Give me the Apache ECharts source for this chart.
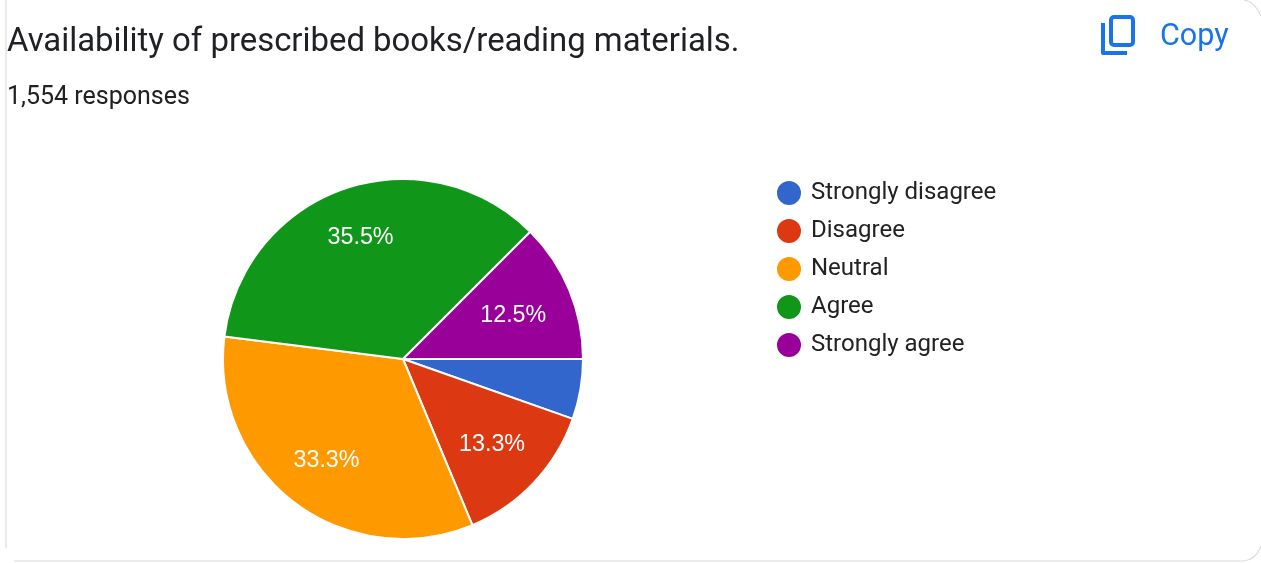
<!DOCTYPE html>
<html><head><meta charset="utf-8">
<style>html,body{margin:0;padding:0;background:#fff}#c{width:1261px;height:563px}</style>
<script src="https://cdn.jsdelivr.net/npm/echarts@6/dist/echarts.min.js"></script>
</head><body><div id="c"></div>
<script>
const categories = ["Strongly disagree","Disagree","Neutral","Agree","Strongly agree"];
const percents = [5.4,13.3,33.3,35.5,12.5];
const colors = ["#3366cc","#dc3912","#ff9900","#109618","#990099"];
const titleText = "Availability of prescribed books/reading materials.";
const subText = "1,554 responses";
const chart = echarts.init(document.getElementById('c'),null,{renderer:'canvas'});
const data = categories.map((n,i)=>({name:n,value:percents[i]}));
const line = {stroke:'#dcdcdc',lineWidth:1.2,fill:'none'};
const blue = {fill:'none',stroke:'#1a73e8',lineWidth:4,lineJoin:'round'};
const labelNudge = [[0,0],[-4,-2],[1,0],[-1,0],[-8,6]];
chart.setOption({
  animation:false,
  backgroundColor:'#fff',
  color:colors,
  title:[
    {text:titleText,left:7,top:26,padding:0,textStyle:{fontFamily:'Roboto',fontSize:32.9,fontWeight:400,color:'#202124'}},
    {text:subText,left:7,top:85,padding:0,textStyle:{fontFamily:'Roboto',fontSize:25,fontWeight:400,color:'#202124'}}
  ],
  legend:{orient:'vertical',left:775,top:179,padding:0,icon:'circle',itemWidth:26,itemHeight:26,itemGap:10,
    selectedMode:false,textStyle:{fontFamily:'Roboto',fontSize:24,lineHeight:24,color:'#222',padding:[0,0,0,4]},data:categories},
  series:[
    {type:'pie',center:[403,359],radius:[0,180],startAngle:0,clockwise:true,silent:true,
      itemStyle:{borderColor:'#fff',borderWidth:2},label:{show:false},labelLine:{show:false},data},
    {type:'pie',center:[403,359],radius:[70,180],startAngle:0,clockwise:true,silent:true,
      legendHoverLink:false,
      itemStyle:{color:'transparent',borderWidth:0},
      label:{show:true,position:'inside',fontFamily:'Liberation Sans',fontSize:23.3,color:'#fff',
        formatter:p=>p.value<6?'':p.value.toFixed(1)+'%'},
      labelLayout:p=>({dx:labelNudge[p.dataIndex][0],dy:labelNudge[p.dataIndex][1]}),
      labelLine:{show:false},data}
  ],
  graphic:[
    {type:'line',shape:{x1:6,y1:0,x2:6,y2:548},style:{...line},silent:true},
    {type:'bezierCurve',shape:{x1:1244,y1:0,cpx1:1254,cpy1:1,x2:1261,y2:16},style:{...line},silent:true},
    {type:'line',shape:{x1:14,y1:561,x2:1243,y2:561},style:{...line},silent:true},
    {type:'bezierCurve',shape:{x1:1243,y1:561,cpx1:1256,cpy1:560,x2:1261,y2:546},style:{...line},silent:true},
    {type:'rect',shape:{x:1111,y:17,width:22,height:28,r:3},style:{...blue},silent:true},
    {type:'polyline',shape:{points:[[1103,23],[1103,53],[1127,53]]},style:{...blue},silent:true},
    {type:'text',x:1160,y:22,style:{text:'Copy',font:'400 30.5px Roboto',fill:'#1a73e8'},silent:true}
  ]
});
</script></body></html>
